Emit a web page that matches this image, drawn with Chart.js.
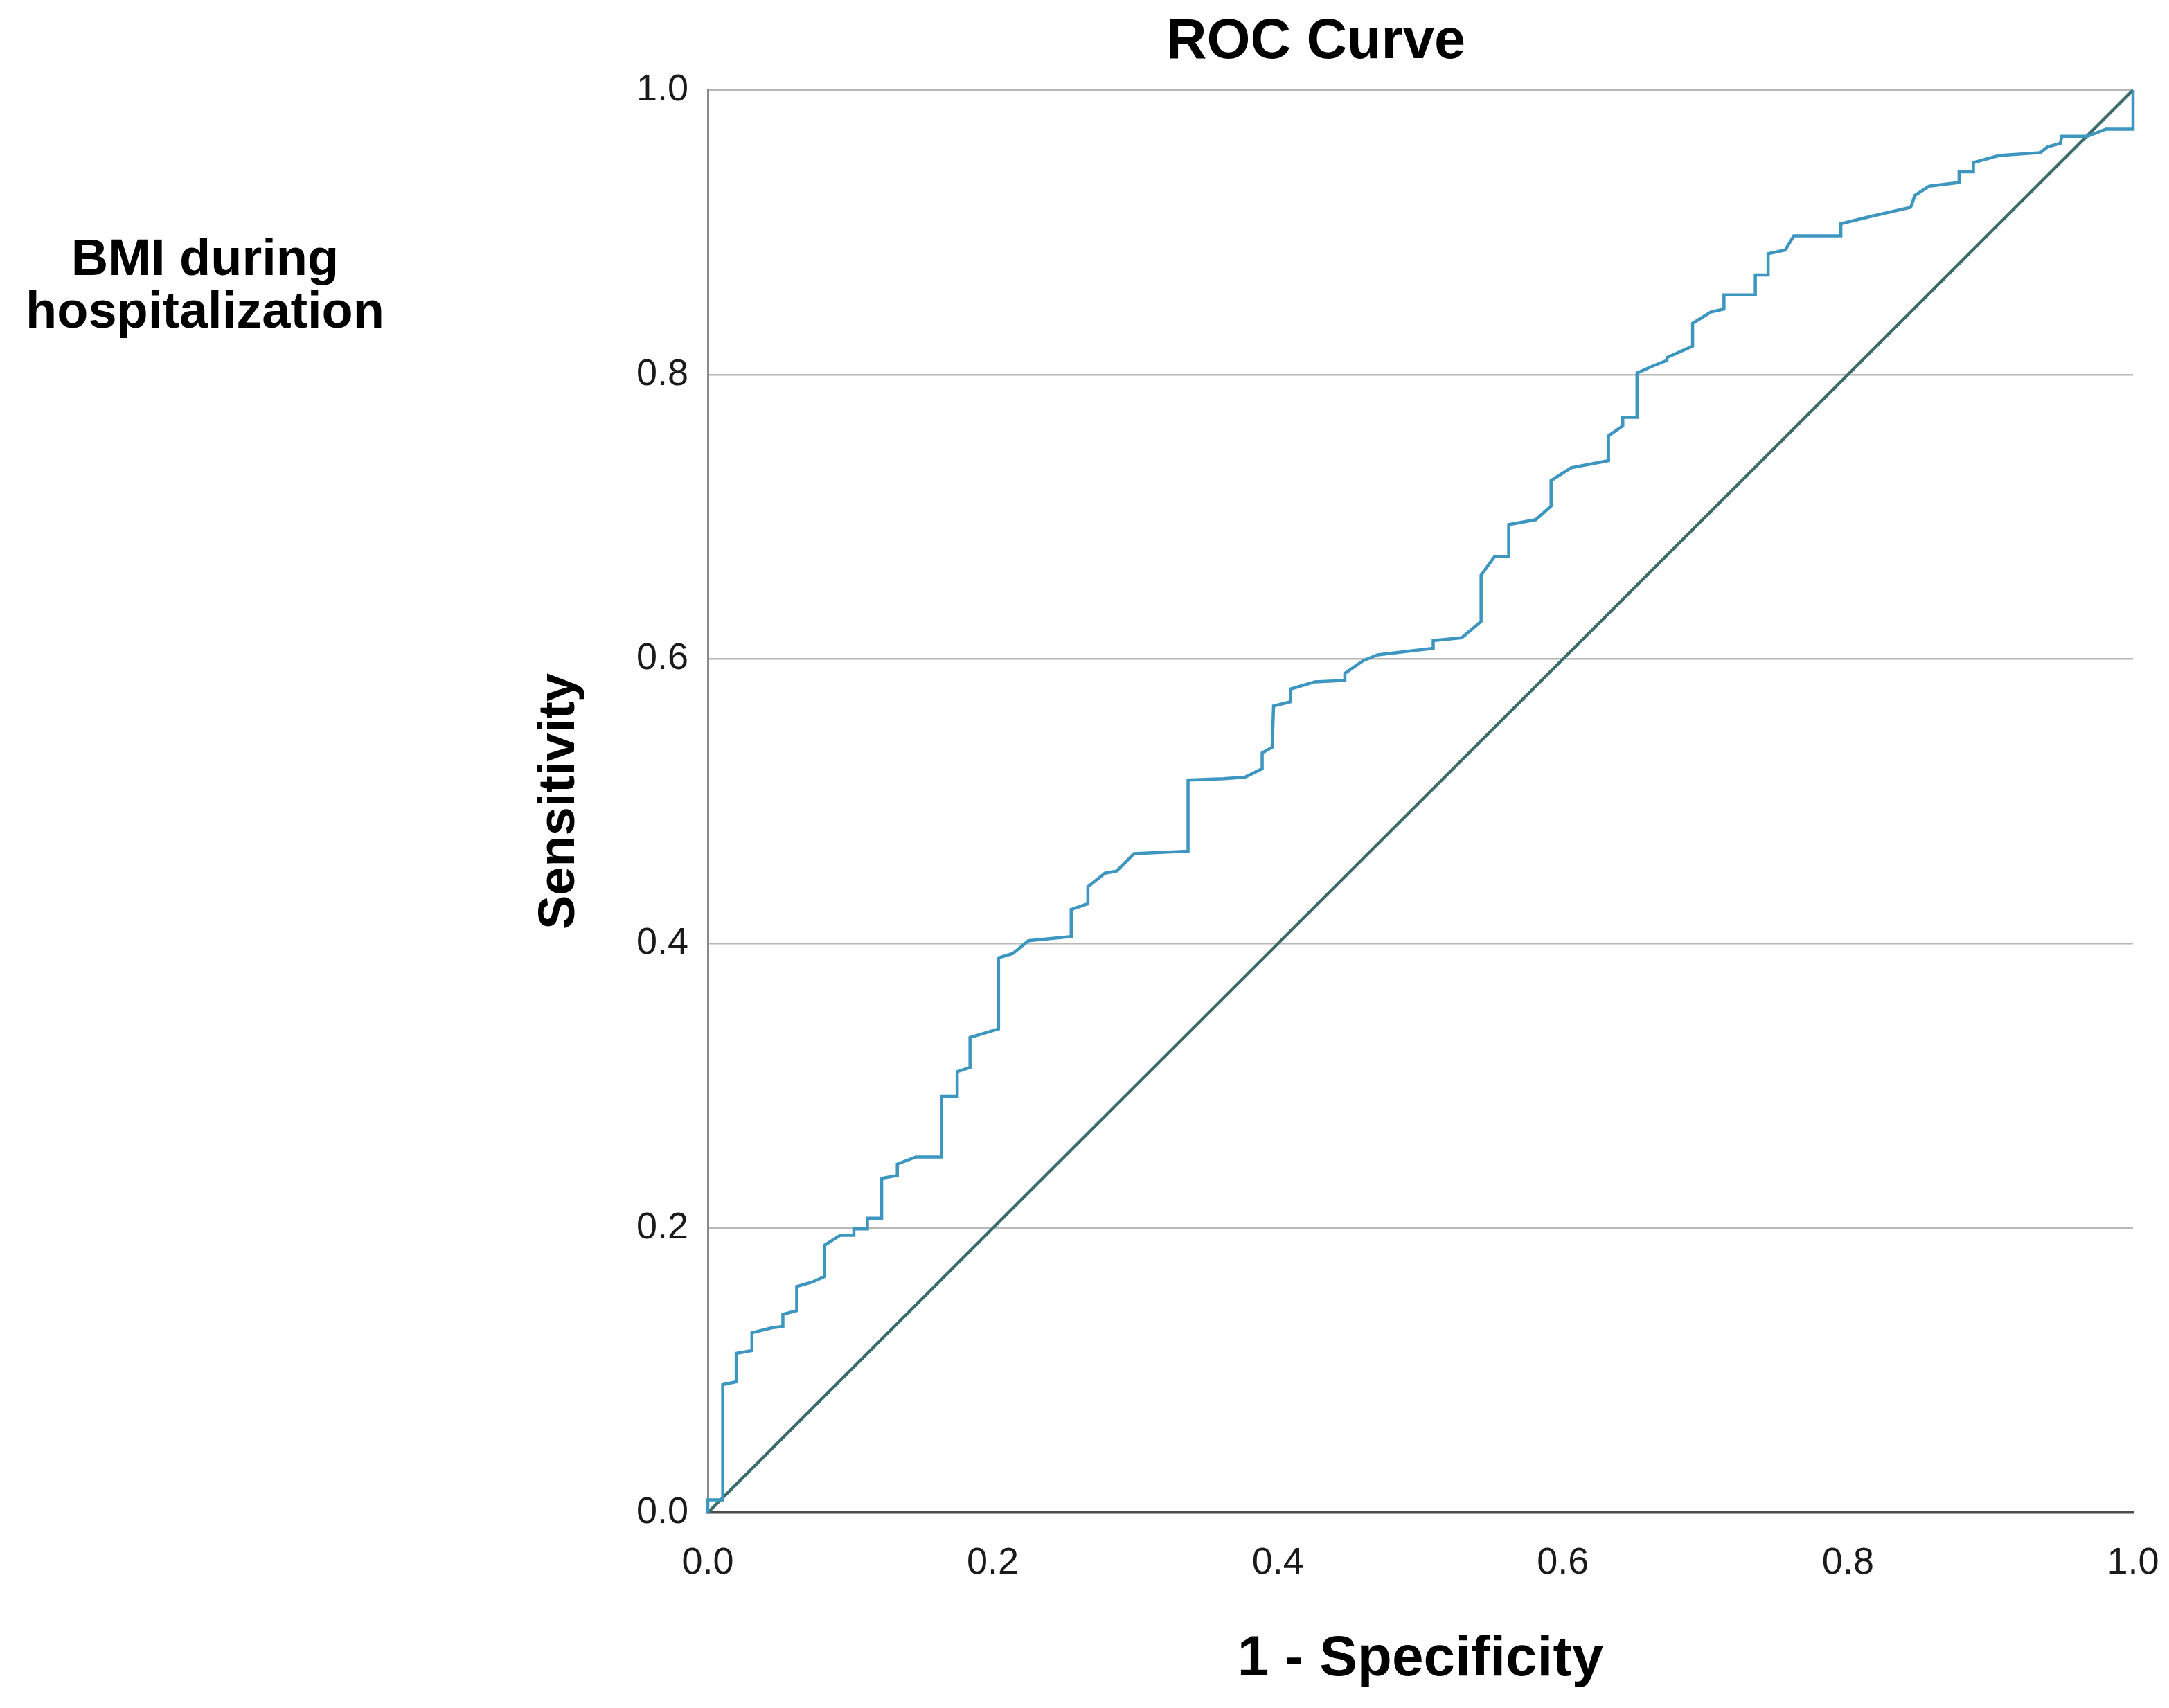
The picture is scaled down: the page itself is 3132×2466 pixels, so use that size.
<!DOCTYPE html>
<html>
<head>
<meta charset="utf-8">
<title>ROC Curve</title>
<script src="https://cdn.jsdelivr.net/npm/chart.js@4.4.1/dist/chart.umd.min.js"></script>
<style>
  html, body { margin: 0; padding: 0; background: #ffffff; }
  canvas { display: block; }
</style>
</head>
<body>
<canvas id="rocChart" width="3132" height="2466"></canvas>
<script>
// ROC curve points (1 - specificity, sensitivity)
const rocFpr = [
  0, 0, 0.0105, 0.0105, 0.020, 0.020, 0.031, 0.031, 0.045, 0.0527,
  0.0527, 0.0624, 0.0624, 0.073, 0.082, 0.082, 0.093, 0.1025, 0.1025, 0.112,
  0.112, 0.122, 0.122, 0.133, 0.133, 0.146, 0.164, 0.164, 0.175, 0.175,
  0.184, 0.184, 0.204, 0.204, 0.214, 0.225, 0.255, 0.255, 0.2667, 0.2667,
  0.2787, 0.2868, 0.2991, 0.337, 0.337, 0.362, 0.377, 0.389, 0.389, 0.396,
  0.397, 0.409, 0.409, 0.426, 0.447, 0.447, 0.46, 0.47, 0.509, 0.509,
  0.529, 0.5426, 0.5426, 0.552, 0.562, 0.562, 0.581, 0.5917, 0.5917, 0.6058,
  0.632, 0.632, 0.642, 0.642, 0.652, 0.652, 0.663, 0.673, 0.673, 0.691,
  0.691, 0.704, 0.713, 0.713, 0.735, 0.735, 0.744, 0.744, 0.756, 0.762,
  0.795, 0.795, 0.8155, 0.844, 0.847, 0.857, 0.878, 0.878, 0.888, 0.888,
  0.906, 0.935, 0.94, 0.949, 0.950, 0.968, 0.981, 1.0, 1.0
];
const rocSens = [
  0, 0.009, 0.009, 0.090, 0.092, 0.112, 0.114, 0.1265, 0.130, 0.131,
  0.1395, 0.142, 0.159, 0.162, 0.166, 0.188, 0.195, 0.195, 0.1995, 0.1995,
  0.207, 0.207, 0.235, 0.237, 0.245, 0.250, 0.250, 0.2926, 0.2926, 0.310,
  0.313, 0.334, 0.340, 0.390, 0.393, 0.402, 0.405, 0.424, 0.428, 0.440,
  0.4495, 0.451, 0.4633, 0.465, 0.515, 0.516, 0.517, 0.523, 0.534, 0.538,
  0.567, 0.570, 0.579, 0.584, 0.585, 0.590, 0.599, 0.603, 0.6076, 0.613,
  0.615, 0.6265, 0.659, 0.672, 0.672, 0.6945, 0.698, 0.7075, 0.7255, 0.7345,
  0.7395, 0.757, 0.764, 0.770, 0.770, 0.801, 0.806, 0.810, 0.812, 0.820,
  0.836, 0.844, 0.846, 0.856, 0.856, 0.870, 0.870, 0.885, 0.8875, 0.8975,
  0.8975, 0.906, 0.911, 0.9175, 0.926, 0.9325, 0.935, 0.9425, 0.9425, 0.949,
  0.954, 0.956, 0.960, 0.9625, 0.9675, 0.9675, 0.9725, 0.9725, 1.0
];

// reference diagonal
const refFpr = [0, 1];
const refSens = [0, 1];

// axis ticks
const axisTicks = [0, 0.2, 0.4, 0.6, 0.8, 1.0];

const fontFamily = "'Liberation Sans', Arial, Helvetica, sans-serif";

// extra texts: chart title and the variable name on the left
const textPlugin = {
  id: "rocTexts",
  afterDraw(chart) {
    const ctx = chart.ctx;
    ctx.save();
    ctx.fillStyle = "#000000";
    ctx.textAlign = "center";
    ctx.textBaseline = "middle";
    ctx.font = "bold 81px " + fontFamily;
    ctx.fillText("ROC Curve", 1900, 62);

    ctx.textBaseline = "alphabetic";
    ctx.font = "bold 74px " + fontFamily;
    ctx.fillText("BMI during", 296, 397);
    ctx.fillText("hospitalization", 296, 473);
    ctx.restore();
  },
};

const toPoints = (xs, ys) => xs.map((x, i) => ({ x: x, y: ys[i] }));

const ctx = document.getElementById("rocChart").getContext("2d");
new Chart(ctx, {
  type: "scatter",
  data: {
    datasets: [
      {
        label: "BMI during hospitalization",
        data: toPoints(rocFpr, rocSens),
        showLine: true,
        borderColor: "#3d96c0",
        borderWidth: 4.5,
        pointRadius: 0,
        tension: 0,
        fill: false,
        clip: false,
      },
      {
        label: "Reference Line",
        data: toPoints(refFpr, refSens),
        showLine: true,
        borderColor: "#3b6b6b",
        borderWidth: 4.5,
        pointRadius: 0,
        tension: 0,
        fill: false,
        clip: false,
      },
    ],
  },
  options: {
    responsive: false,
    animation: false,
    devicePixelRatio: 1,
    layout: {
      padding: { left: 0, right: 52, top: 130, bottom: 0 },
    },
    plugins: {
      legend: { display: false },
      tooltip: { enabled: false },
      title: { display: false },
    },
    scales: {
      x: {
        type: "linear",
        min: 0,
        max: 1,
        afterBuildTicks(scale) {
          scale.ticks = axisTicks.map((v) => ({ value: v }));
        },
        afterFit(scale) {
          scale.height = 282;
          scale.paddingLeft = 0;
          scale.paddingRight = 0;
        },
        grid: { display: false, drawTicks: false },
        border: { display: true, color: "#4d4d4d", width: 3.5 },
        ticks: {
          padding: 41,
          maxRotation: 0,
          color: "#1a1a1a",
          font: { family: fontFamily, size: 54 },
          callback: (v) => Number(v).toFixed(1),
        },
        title: {
          display: true,
          text: "1 - Specificity",
          color: "#000000",
          font: { family: fontFamily, size: 82, weight: "bold" },
          padding: { top: 0, bottom: 20 },
        },
      },
      y: {
        type: "linear",
        min: 0,
        max: 1,
        afterBuildTicks(scale) {
          scale.ticks = axisTicks.map((v) => ({ value: v }));
        },
        afterFit(scale) {
          scale.width = 1022;
          scale.paddingTop = 0;
          scale.paddingBottom = 0;
        },
        grid: {
          drawTicks: false,
          lineWidth: 2.5,
          color: (c) => (c.tick && c.tick.value === 0 ? "rgba(0,0,0,0)" : "#b8b8b8"),
        },
        border: { display: true, color: "#8a8a8a", width: 3 },
        ticks: {
          padding: 28,
          color: "#1a1a1a",
          font: { family: fontFamily, size: 54 },
          callback: (v) => Number(v).toFixed(1),
        },
        title: {
          display: true,
          text: "Sensitivity",
          color: "#000000",
          font: { family: fontFamily, size: 74, weight: "bold" },
          padding: { top: 764, bottom: 0 },
        },
      },
    },
  },
  plugins: [textPlugin],
});
</script>
</body>
</html>
